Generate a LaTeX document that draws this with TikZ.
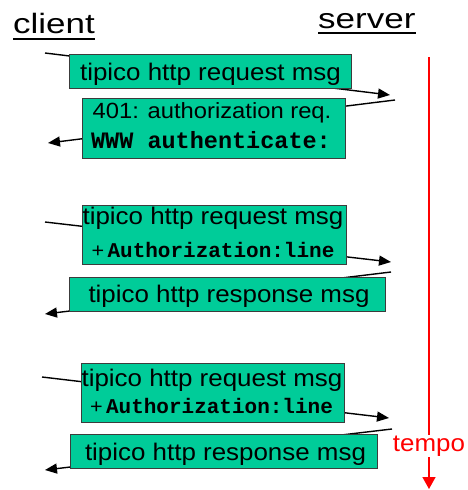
\documentclass[tikz,border=0pt]{standalone}
\usepackage{fontspec}
\setmainfont{Liberation Sans}
\newfontfamily\headfont[FakeStretch=1.25]{Liberation Sans}
\newfontfamily\boxfont[FakeStretch=1.08]{Liberation Sans}
\newfontfamily\codefont{Liberation Mono}
\usetikzlibrary{arrows.meta}
\definecolor{boxgreen}{RGB}{0,204,153}
\definecolor{boxedge}{RGB}{60,60,60}
\tikzset{
  msgbox/.style={draw=boxedge, line width=0.8pt, fill=boxgreen, inner sep=0pt},
  msgtext/.style={anchor=base, inner sep=0pt, font=\boxfont\fontsize{24}{28}\selectfont},
  msgline/.style={line width=1.4pt, -{Triangle[length=12pt,width=10pt]}},
  headtext/.style={anchor=base west, inner sep=0pt, font=\headfont\fontsize{28}{32}\selectfont},
  timeline/.style={red, line width=1.5pt},
}
\newcommand{\authline}{{\fontsize{20}{24}\selectfont +\,}{\codefont\bfseries\fontsize{21}{24}\selectfont Authorization:line}}
\begin{document}
\begin{tikzpicture}[x=1pt,y=-1pt]
\useasboundingbox (0,0) rectangle (467,490);
% headings
\node[headtext] (client) at (13,33) {client};
\node[headtext] (server) at (318,28) {server};
\draw[line width=2pt] ([yshift=-6pt]client.base west) -- ([yshift=-6pt]client.base east);
\draw[line width=2pt] ([yshift=-5pt]server.base west) -- ([yshift=-5pt]server.base east);
% time axis
\coordinate (ttop) at (429,57);
\coordinate (tbot) at (429,489);
\draw[timeline, -{Triangle[length=12pt,width=13pt]}] (ttop) -- (tbot);
\node[fill=white, text=red, inner sep=1pt, font=\boxfont\fontsize{24}{28}\selectfont] (tempo) at (429,446) {tempo};
% message lines (behind boxes)
\coordinate (a1s) at (45,53);   \coordinate (a1e) at (390,95);
\coordinate (a2s) at (395,100); \coordinate (a2e) at (48,143);
\coordinate (a3s) at (45,222);  \coordinate (a3e) at (391,262);
\coordinate (a4s) at (391,272); \coordinate (a4e) at (45,314);
\coordinate (a5s) at (42,377);  \coordinate (a5e) at (389,418);
\coordinate (a6s) at (392,429); \coordinate (a6e) at (45,470);
\draw[msgline] (a1s) -- (a1e);
\draw[msgline] (a2s) -- (a2e);
\draw[msgline] (a3s) -- (a3e);
\draw[msgline] (a4s) -- (a4e);
\draw[msgline] (a5s) -- (a5e);
\draw[msgline] (a6s) -- (a6e);
% boxes
\node[msgbox, minimum width=282pt, minimum height=34pt] (b1) at (210,71) {};
\node[msgbox, minimum width=263pt, minimum height=60pt] (b2) at (213.5,128) {};
\node[msgbox, minimum width=264pt, minimum height=59pt] (b3) at (214,234.5) {};
\node[msgbox, minimum width=316pt, minimum height=34pt] (b4) at (227,294) {};
\node[msgbox, minimum width=263pt, minimum height=59pt] (b5) at (212.5,392.5) {};
\node[msgbox, minimum width=307pt, minimum height=34pt] (b6) at (223.5,451) {};
% texts
\node[msgtext] (t1) at (210.5,80) {tipico http request msg};
\node[msgtext, font=\boxfont\fontsize{22}{26}\selectfont] (t2a) at (212,118) {401: authorization req.};
\node[msgtext, font=\codefont\bfseries\fontsize{23.5}{26}\selectfont] (t2b) at (211,148) {WWW authenticate:};
\node[msgtext] (t3a) at (213,224) {tipico http request msg};
\node[msgtext] (t3b) at (213,257) {\authline};
\node[msgtext] (t4) at (229,302) {tipico http response msg};
\node[msgtext] (t5a) at (212,386) {tipico http request msg};
\node[msgtext] (t5b) at (211.5,413) {\authline};
\node[msgtext] (t6) at (225.5,460) {tipico http response msg};
\end{tikzpicture}
\end{document}
